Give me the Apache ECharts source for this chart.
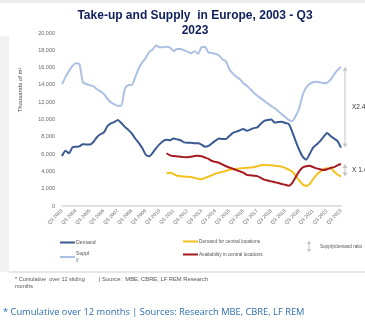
<!DOCTYPE html>
<html>
<head>
<meta charset="utf-8">
<script src="https://cdn.jsdelivr.net/npm/echarts@6/dist/echarts.min.js"></script>
<style>
  html, body { margin: 0; padding: 0; background: #ffffff; }
  #chart { width: 365px; height: 326px; }
</style>
</head>
<body>
<div id="chart"></div>
<script>
// Quarterly series, Q3 2003 to Q3 2023 (thousands of m², rolling 12 months)
const quarters = [];
for (let y = 2003; y <= 2023; y++) {
  for (const q of (y === 2003 ? [3, 4] : y === 2023 ? [1, 2, 3] : [1, 2, 3, 4])) {
    quarters.push('Q' + q + ' ' + y);
  }
}

const demand = [
  5780, 6390, 6090, 6780, 6850, 6900, 7150, 7100, 7100, 7400,
  7950, 8300, 8500, 9200, 9550, 9700, 9950, 9600, 9150, 8800,
  8400, 7800, 7300, 6700, 5950, 5750, 6150, 6700, 7150, 7500,
  7650, 7600, 7800, 7700, 7600, 7350, 7300, 7300, 7250, 7250,
  7100, 6850, 6950, 7250, 7550, 7800, 7750, 7750, 8100, 8450,
  8600, 8750, 8900, 8700, 8850, 9000, 9100, 9500, 9850, 9950,
  10000, 9650, 9700, 9750, 9600, 9500, 8600, 7500, 6500, 5700,
  5350, 6000, 6750, 7100, 7500, 8000, 8450, 8100, 7800, 7500,
  6750
];

const supply = [
  14100, 14900, 15600, 16200, 16500, 16400, 14300, 14100, 13950, 13850,
  13500, 13250, 12950, 12400, 12000, 11750, 11600, 11600, 13500, 14000,
  14000, 14900, 15900, 16600, 17100, 17800, 18100, 18550, 18350, 18350,
  18400, 18300, 17900, 18150, 18150, 18000, 17850, 17650, 17900, 17600,
  18350, 18400, 17750, 17700, 17600, 17400, 16950, 16750, 15800, 15300,
  14950, 14650, 14200, 13900, 13500, 13100, 12750, 12450, 12150, 11850,
  11550, 11300, 10950, 10600, 10300, 9950, 9800, 10400, 11300, 12800,
  13700, 14100, 14300, 14350, 14300, 14200, 14250, 14600, 15200, 15700,
  16100
];

// Central-location series start in Q1 2011 (index 30)
const centralStart = 30;
const centralDemand = [
  3780, 3850, 3700, 3500, 3450, 3400, 3380, 3350, 3250, 3150,
  3100, 3250, 3400, 3550, 3750, 3850, 3950, 4050, 4200, 4250,
  4300, 4350, 4380, 4420, 4450, 4480, 4600, 4720, 4750, 4700,
  4720, 4650, 4600, 4550, 4400, 4200, 4000, 3500, 2950, 2500,
  2320, 2550, 3100, 3600, 3950, 4250, 4350, 4350, 4000, 3650,
  3400
];
const centralAvailability = [
  6100, 5850, 5780, 5720, 5700, 5650, 5630, 5700, 5780, 5800,
  5750, 5600, 5450, 5200, 5100, 5000, 4800, 4600, 4450, 4300,
  4150, 4000, 3850, 3600, 3550, 3500, 3450, 3250, 3050, 2950,
  2850, 2750, 2650, 2550, 2450, 2350, 2650, 3350, 4000, 4450,
  4600, 4650, 4500, 4350, 4250, 4150, 4250, 4400, 4500, 4700,
  4850
];

const yTicks = { min: 0, max: 20000, interval: 2000 };

function padLeft(arr, n) {
  return new Array(n).fill(null).concat(arr);
}

const FONT = '"Liberation Sans", Arial, sans-serif';
const C_DEMAND = '#3b5a92';
const C_SUPPLY = '#abc0e2';
const C_CDEMAND = '#f4c01c';
const C_CAVAIL = '#a51a20';
const C_RATIO = '#c4c4c4';

const chart = echarts.init(document.getElementById('chart'), null, { renderer: 'canvas' });

function lineSeries(name, data, color) {
  return {
    name, type: 'line', data, showSymbol: false, symbol: 'none',
    smooth: 0.2, lineStyle: { color, width: 2 }, itemStyle: { color },
    connectNulls: false, silent: true
  };
}

const option = {
  animation: false,
  backgroundColor: '#ffffff',
  textStyle: { fontFamily: FONT },
  title: {
    text: 'Take-up and Supply  in Europe, 2003 - Q3\n2023',
    left: 190, top: 3, textAlign: 'center',
    textStyle: { fontFamily: FONT, fontWeight: 'bold', fontSize: 12, color: '#0e1f5c', lineHeight: 15 }
  },
  grid: { left: 62, right: 24, top: 33, bottom: 120, containLabel: false },
  xAxis: {
    type: 'category', data: quarters, boundaryGap: false,
    axisLine: { lineStyle: { color: '#e2e2e2', width: 2 } },
    axisTick: { show: false },
    axisLabel: {
      interval: 3, rotate: 45, fontSize: 5, color: '#666', margin: 4,
      fontFamily: FONT
    },
    splitLine: { show: false }
  },
  yAxis: {
    type: 'value', min: yTicks.min, max: yTicks.max, interval: yTicks.interval,
    axisLine: { show: false }, axisTick: { show: false },
    splitLine: { show: false },
    axisLabel: {
      fontSize: 5.5, color: '#666', margin: 7, fontFamily: FONT,
      formatter: v => v.toLocaleString('en-US')
    }
  },
  legend: [
    {
      left: 60, top: 240, orient: 'vertical', itemGap: 6, padding: 0,
      itemWidth: 15, itemHeight: 2, icon: 'rect',
      data: [
        { name: 'Demand' },
        { name: 'Supply', textStyle: { width: 14, overflow: 'breakAll', lineHeight: 6 } }
      ],
      textStyle: { fontSize: 5.2, color: '#555', fontFamily: FONT, padding: [0, 0, 0, -4] },
      selectedMode: false
    },
    {
      left: 183, top: 239, orient: 'vertical', itemGap: 8, padding: 0,
      itemWidth: 15, itemHeight: 2, icon: 'rect',
      data: ['Demand for central locations', 'Availability in central locations'],
      textStyle: { fontSize: 4.8, color: '#555', fontFamily: FONT, padding: [0, 0, 0, -4] },
      selectedMode: false
    }
  ],
  series: [
    lineSeries('Supply', supply, C_SUPPLY),
    lineSeries('Demand', demand, C_DEMAND),
    lineSeries('Demand for central locations', padLeft(centralDemand, centralStart), C_CDEMAND),
    lineSeries('Availability in central locations', padLeft(centralAvailability, centralStart), C_CAVAIL)
  ]
};

chart.setOption(option);

// Supply/demand ratio arrows at the last quarter, plus page decorations
const last = quarters.length - 1;
const px = v => chart.convertToPixel({ gridIndex: 0 }, [last, v]);
const lastSupply = supply[last], lastDemand = demand[last];
const lastAvail = centralAvailability[centralAvailability.length - 1];
const lastCDemand = centralDemand[centralDemand.length - 1];
const pS = px(lastSupply), pD = px(lastDemand), pA = px(lastAvail), pC = px(lastCDemand);
const ax = pS[0] + 4;

function ratioArrow(yTop, yBottom) {
  return [
    { type: 'line', shape: { x1: ax, y1: yTop + 3, x2: ax, y2: yBottom - 3 }, style: { stroke: C_RATIO, lineWidth: 1 }, silent: true },
    { type: 'polygon', shape: { points: [[ax - 2.5, yTop + 4], [ax + 2.5, yTop + 4], [ax, yTop]] }, style: { fill: C_RATIO }, silent: true },
    { type: 'polygon', shape: { points: [[ax - 2.5, yBottom - 4], [ax + 2.5, yBottom - 4], [ax, yBottom]] }, style: { fill: C_RATIO }, silent: true }
  ];
}

const ratioMain = (lastSupply / lastDemand).toFixed(1);
const ratioCentral = (lastAvail / lastCDemand).toFixed(1);

chart.setOption({
  graphic: [
    // page edges around the chart panel
    { type: 'rect', shape: { x: 0, y: 0, width: 365, height: 3 }, style: { fill: '#ececec' }, silent: true, z: -10 },
    { type: 'rect', shape: { x: 0, y: 36, width: 9, height: 236 }, style: { fill: '#f1f1f1' }, silent: true, z: -10 },
    { type: 'rect', shape: { x: 9, y: 271, width: 356, height: 2 }, style: { fill: '#e6e6e6' }, silent: true, z: -10 },
    // y axis title
    {
      type: 'text', x: 20, y: 90, rotation: Math.PI / 2, silent: true,
      style: { text: 'Thousands of m²', fontSize: 6, fill: '#444', fontFamily: FONT, align: 'center', verticalAlign: 'middle' }
    },
    ...ratioArrow(pS[1], pD[1]),
    ...ratioArrow(pA[1], pC[1]),
    {
      type: 'text', x: 352, y: (pS[1] + pD[1]) / 2, silent: true,
      style: { text: 'X' + ratioMain, fontSize: 6.5, fill: '#333', fontFamily: FONT, verticalAlign: 'middle' }
    },
    {
      type: 'text', x: 352, y: (pA[1] + pC[1]) / 2, silent: true,
      style: { text: 'X ' + ratioCentral, fontSize: 6.5, fill: '#333', fontFamily: FONT, verticalAlign: 'middle' }
    },
    // ratio legend entry
    { type: 'polygon', shape: { points: [[307, 244], [311, 244], [309, 240.5]] }, style: { fill: C_RATIO }, silent: true },
    { type: 'line', shape: { x1: 309, y1: 244, x2: 309, y2: 249 }, style: { stroke: C_RATIO, lineWidth: 1 }, silent: true },
    { type: 'polygon', shape: { points: [[307, 249], [311, 249], [309, 252.5]] }, style: { fill: C_RATIO }, silent: true },
    {
      type: 'text', x: 320, y: 246.5, silent: true,
      style: { text: 'Supply/demand ratio', fontSize: 4.6, fill: '#555', fontFamily: FONT, verticalAlign: 'middle' }
    },
    // notes under the panel
    {
      type: 'text', x: 15, y: 276, silent: true,
      style: { text: '* Cumulative  over 12 sliding\nmonths', fontSize: 5.5, lineHeight: 7, fill: '#555', fontFamily: FONT }
    },
    {
      type: 'text', x: 99, y: 276, silent: true,
      style: { text: '| Source:  MBE, CBRE, LF REM Research', fontSize: 5.8, fill: '#555', fontFamily: FONT }
    },
    {
      type: 'text', x: 3, y: 312, silent: true,
      style: { text: '* Cumulative over 12 months | Sources: Research MBE, CBRE, LF REM', fontSize: 9.3, fill: '#2f6fae', fontFamily: '"Open Sans", "Noto Sans", sans-serif', verticalAlign: 'middle' }
    }
  ]
});
</script>
</body>
</html>
